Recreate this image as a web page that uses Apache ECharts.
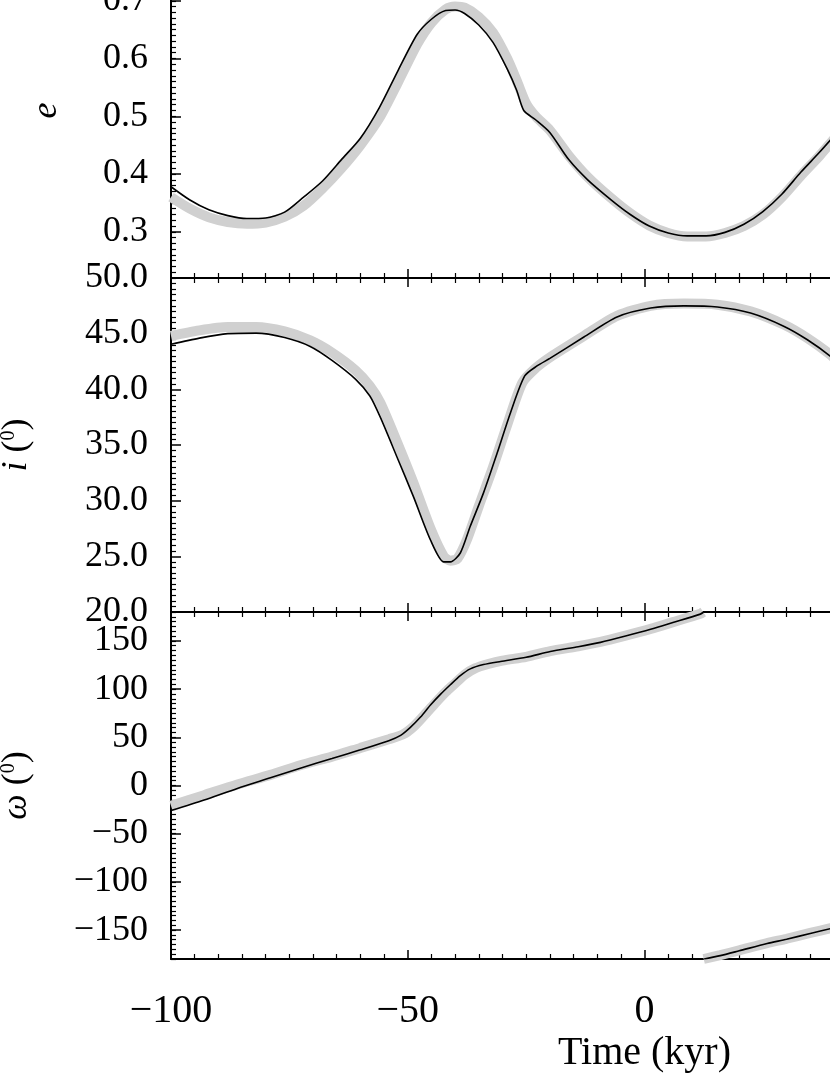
<!DOCTYPE html>
<html>
<head>
<meta charset="utf-8">
<script src="https://cdn.jsdelivr.net/npm/echarts@6/dist/echarts.min.js"></script>
<style>
  html, body { margin: 0; padding: 0; background: #fff; }
  #chart { width: 830px; height: 1075px; }
</style>
</head>
<body>
<div id="chart"></div>
<script>
// time in kyr, [t, value]
const eModel = [
  [-100, 0.378], [-96, 0.355], [-92, 0.338], [-88, 0.328], [-84, 0.323], [-80, 0.324],
  [-76, 0.334], [-72, 0.36], [-68, 0.388], [-64, 0.425], [-60, 0.462], [-56, 0.515],
  [-52, 0.58], [-48, 0.642], [-45, 0.668], [-42, 0.683], [-40, 0.684], [-38, 0.678],
  [-35, 0.658], [-32, 0.628], [-29, 0.582], [-27, 0.545], [-25.5, 0.51], [-23, 0.494],
  [-20, 0.472], [-16, 0.425], [-12, 0.39], [-7, 0.355], [-3, 0.33], [1, 0.31],
  [5, 0.298], [9, 0.293], [13, 0.293], [17, 0.299], [21, 0.313], [25, 0.335],
  [29, 0.365], [33, 0.403], [37, 0.438], [41, 0.475]
]
const eSim = [
  [-100, 0.36], [-96, 0.34], [-92, 0.325], [-88, 0.317], [-84, 0.314], [-80, 0.316],
  [-76, 0.326], [-72, 0.345], [-68, 0.375], [-64, 0.41], [-60, 0.45], [-56, 0.497],
  [-52, 0.56], [-48, 0.625], [-45, 0.662], [-42, 0.685], [-40, 0.69], [-38, 0.688],
  [-35, 0.672], [-32, 0.645], [-29, 0.6], [-27, 0.562], [-25, 0.522], [-23, 0.5],
  [-20, 0.476], [-16, 0.432], [-12, 0.395], [-7, 0.358], [-3, 0.332], [1, 0.311],
  [5, 0.298], [9, 0.292], [13, 0.292], [17, 0.298], [21, 0.31], [25, 0.33],
  [29, 0.36], [33, 0.397], [37, 0.432], [41, 0.47]
]

const incModel = [
  [-100, 44.05], [-94, 44.6], [-88, 45.0], [-82, 45.05], [-76, 44.65], [-70.6, 43.85],
  [-66, 42.6], [-61, 40.9], [-58, 39.4], [-55.8, 37.5], [-52.3, 33.95], [-48.8, 30.36],
  [-45.2, 26.47], [-42.4, 24.5], [-41, 24.5], [-38.9, 25.3], [-36.8, 27.7], [-34, 30.7],
  [-31.1, 34.3], [-28.3, 37.9], [-25.3, 41.2], [-22.7, 42.1], [-19.9, 42.8], [-12.8, 44.7],
  [-5.8, 46.5], [1.3, 47.3], [8.3, 47.5], [15.4, 47.4], [22.4, 46.85], [29.5, 45.65],
  [34.4, 44.45], [39.3, 42.95], [41, 42.2]
]
const incSim = [
  [-100, 44.8], [-94, 45.3], [-88, 45.6], [-82, 45.6], [-76, 45.2], [-70.6, 44.4],
  [-66, 43.3], [-61, 41.7], [-58, 40.3], [-55.8, 38.8], [-52.3, 35.3], [-48.8, 31.6],
  [-45.2, 27.5], [-42.4, 25.0], [-41, 24.6], [-39.5, 24.8], [-37.5, 26.5], [-35, 29.5],
  [-32, 33.0], [-29, 36.8], [-25.8, 40.6], [-23, 41.9], [-19.9, 42.9], [-12.8, 44.8],
  [-5.8, 46.6], [1.3, 47.5], [8.3, 47.7], [15.4, 47.6], [22.4, 47.0], [29.5, 45.8],
  [34.4, 44.6], [39.3, 43.1], [41, 42.4]
]

// omega wraps from 180 to -180 near t = 12.5
const omegaModelA = [
  [-100, -26], [-93, -15], [-86, -3], [-79, 8], [-72.7, 18], [-66, 28], [-60, 37],
  [-54, 46.5], [-51.5, 52], [-49.5, 60], [-47.3, 71], [-45.2, 83.5], [-43, 95],
  [-41, 104.5], [-38.9, 114], [-36.8, 121], [-34, 125.5], [-30.4, 128.7], [-25, 133],
  [-19.9, 139], [-14, 144], [-9.3, 148.5], [-4, 155], [1.3, 162], [6, 169], [11.8, 177.8], [12.5, 180]
]
const omegaSimA = [
  [-100, -21], [-93, -10], [-86, 1], [-79, 11], [-72.7, 21], [-66, 30], [-60, 39],
  [-54, 48], [-51, 53], [-48.8, 61], [-46.5, 73], [-44.3, 85], [-42, 97],
  [-40, 106], [-38, 115], [-35.8, 121.5], [-33, 126], [-30, 129.5], [-25, 133.5],
  [-19.9, 139.5], [-14, 144.5], [-9.3, 149], [-4, 155.5], [1.3, 162.5], [6, 169.5], [11.8, 178.3], [12.4, 180]
]
const omegaModelB = [
  [12.6, -180], [16, -176.5], [20, -171.5], [25.9, -164], [30, -159.5], [35, -153.5], [39.3, -148.5], [42, -145.5]
]
const omegaSimB = [
  [12.5, -180], [16, -176], [20, -171], [25.9, -163.5], [30, -159], [35, -153], [39.3, -148], [42, -145]
]

const timeTicks = { min: -100, max: 100, interval: 50 }
const eRange = { min: 0.22, max: 0.8 }
const incRange = { min: 20, max: 50, interval: 5 }
const omegaRange = { min: -180, max: 180 }

const serif = 'Liberation Serif'
const ink = '#000'
const simColor = '#d0d0d0'

const grids = [
  { left: 171, right: -288, top: -57, height: 335 },
  { left: 171, right: -288, top: 278, height: 334 },
  { left: 171, right: -288, top: 612, height: 347 },
]

const axisLine = { show: true, onZero: false, lineStyle: { color: ink, width: 2 } }

const minus = v => (v < 0 ? '\u2212' + Math.abs(v) : String(v))

const timeAxis = (gridIndex, position, withLabels) => ({
  type: 'value',
  gridIndex,
  position,
  ...timeTicks,
  axisLine,
  axisTick: { show: true, inside: true, length: 9, lineStyle: { color: ink, width: 1.5 } },
  minorTick: { show: true, splitNumber: 10, length: 5, lineStyle: { color: ink, width: 1.2 } },
  splitLine: { show: false },
  minorSplitLine: { show: false },
  axisLabel: {
    show: withLabels,
    margin: 32,
    fontFamily: serif,
    fontSize: 40,
    color: ink,
    showMaxLabel: false,
    formatter: minus,
  },
  name: withLabels ? 'Time (kyr)' : '',
  nameLocation: 'middle',
  nameGap: 74,
  nameTextStyle: { fontFamily: serif, fontSize: 40, color: ink },
})

const yLabel = (formatter) => ({
  margin: 23,
  fontFamily: serif,
  fontSize: 36,
  color: ink,
  formatter,
})

const yName = (sym, gap) => ({
  name: `{it|${sym}}{n| (}{sup|0}{n|)}`,
  nameLocation: 'middle',
  nameGap: gap,
  nameRotate: 90,
  nameTextStyle: {
    fontFamily: serif,
    fontSize: 36,
    color: ink,
    rich: {
      it: { fontFamily: serif, fontSize: 36, fontStyle: 'italic', color: ink },
      n: { fontFamily: serif, fontSize: 36, color: ink },
      sup: { fontFamily: serif, fontSize: 20, color: ink, verticalAlign: 'top', padding: [0, 0, 14, 0] },
    },
  },
})

const minorAxis = (gridIndex, range, interval) => ({
  type: 'value',
  gridIndex,
  position: 'left',
  ...range,
  interval,
  axisLine: { show: false, onZero: false },
  axisTick: { show: true, inside: true, length: 5, lineStyle: { color: ink, width: 1.2 } },
  axisLabel: { show: false },
  splitLine: { show: false },
})

const option = {
  backgroundColor: '#fff',
  animation: false,
  grid: grids.map(g => ({ ...g, containLabel: false, outerBoundsMode: 'none' })),
  xAxis: [
    timeAxis(0, 'bottom', false),
    timeAxis(0, 'top', false),
    timeAxis(1, 'bottom', false),
    timeAxis(1, 'top', false),
    timeAxis(2, 'bottom', true),
    timeAxis(2, 'top', false),
  ],
  yAxis: [
    {
      type: 'value',
      gridIndex: 0,
      position: 'left',
      ...eRange,
      splitNumber: 5,
      axisLine,
      axisTick: { show: true, inside: true, length: 10, lineStyle: { color: ink, width: 1.5 } },
      splitLine: { show: false },
      axisLabel: { ...yLabel(v => v.toFixed(1)), showMinLabel: false, showMaxLabel: true },
      name: 'e',
      nameLocation: 'middle',
      nameGap: 106,
      nameRotate: 90,
      nameTextStyle: { fontFamily: serif, fontSize: 36, fontStyle: 'italic', color: ink },
    },
    minorAxis(0, eRange, 0.01),
    {
      type: 'value',
      gridIndex: 1,
      position: 'left',
      ...incRange,
      axisLine,
      axisTick: { show: true, inside: true, length: 10, lineStyle: { color: ink, width: 1.5 } },
      minorTick: { show: true, splitNumber: 10, length: 5, lineStyle: { color: ink, width: 1.2 } },
      splitLine: { show: false },
      minorSplitLine: { show: false },
      axisLabel: yLabel(v => v.toFixed(1)),
      ...yName('i', 136),
    },
    {
      type: 'value',
      gridIndex: 2,
      position: 'left',
      ...omegaRange,
      splitNumber: 7,
      axisLine,
      axisTick: { show: true, inside: true, length: 10, lineStyle: { color: ink, width: 1.5 } },
      splitLine: { show: false },
      axisLabel: { ...yLabel(minus), showMinLabel: false, showMaxLabel: false },
      ...yName('\u03c9', 136),
    },
    minorAxis(2, omegaRange, 5),
  ],
  series: [
    { data: eSim, xAxisIndex: 0, yAxisIndex: 0, sim: true },
    { data: eModel, xAxisIndex: 0, yAxisIndex: 0 },
    { data: incSim, xAxisIndex: 2, yAxisIndex: 2, sim: true },
    { data: incModel, xAxisIndex: 2, yAxisIndex: 2 },
    { data: omegaSimA, xAxisIndex: 4, yAxisIndex: 3, sim: true },
    { data: omegaSimB, xAxisIndex: 4, yAxisIndex: 3, sim: true },
    { data: omegaModelA, xAxisIndex: 4, yAxisIndex: 3 },
    { data: omegaModelB, xAxisIndex: 4, yAxisIndex: 3 },
  ].map(({ sim, ...s }) => ({
    type: 'line',
    ...s,
    smooth: 0.25,
    symbol: 'none',
    silent: true,
    lineStyle: sim ? { color: simColor, width: 10 } : { color: ink, width: 1.6 },
    z: sim ? 2 : 3,
  })),
}

const chart = echarts.init(document.getElementById('chart'))
chart.setOption(option)
window.addEventListener('resize', () => chart.resize())
</script>
</body>
</html>
